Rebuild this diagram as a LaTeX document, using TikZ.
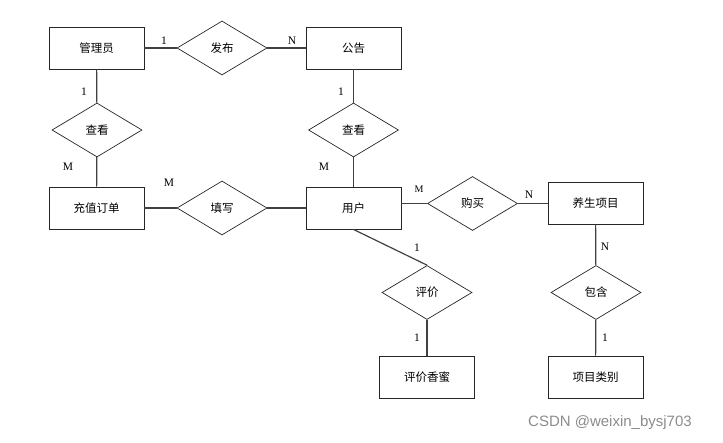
\documentclass[tikz,border=0pt]{standalone}
\usepackage{fontspec}
\setmainfont{Liberation Serif}
\newfontfamily\cjk{Noto Sans CJK SC}
\newfontfamily\wmfont{Liberation Sans}
\usetikzlibrary{shapes.geometric}
\begin{document}
\begin{tikzpicture}[x=1pt,y=-1pt,
  entity/.style={draw=black!85,line width=0.9pt,minimum width=95pt,minimum height=42pt,inner sep=0pt,font=\cjk\fontsize{11.5}{12}\selectfont},
  rel/.style={diamond,draw=black!85,line width=0.7pt,minimum width=90pt,minimum height=54pt,aspect=1.67,inner sep=0pt,font=\cjk\fontsize{11.5}{12}\selectfont},
  conn/.style={draw=black!75,line width=1.2pt},
  card/.style={font=\fontsize{11.5}{12}\selectfont,inner sep=0pt}]
\useasboundingbox (0,0) rectangle (723,443);
\node[entity] (admin) at (96.5,48) {管理员};
\node[rel] (fabu) at (222,48) {发布};
\node[entity] (gonggao) at (353.5,48) {公告};
\node[rel] (chakan1) at (97,130) {查看};
\node[rel] (chakan2) at (353.5,130) {查看};
\node[entity] (dingdan) at (96.5,208) {充值订单};
\node[rel] (tianxie) at (222,208) {填写};
\node[entity] (yonghu) at (353.5,208) {用户};
\node[rel] (goumai) at (472.5,203.5) {购买};
\node[entity] (xiangmu) at (595.5,203) {养生项目};
\node[rel] (pingjia) at (427,292.5) {评价};
\node[rel] (baohan) at (596,292.5) {包含};
\node[entity] (xiangmi) at (427,377) {评价香蜜};
\node[entity] (leibie) at (595.5,377) {项目类别};
\draw[conn] (admin) -- (fabu);
\draw[conn] (fabu) -- (gonggao);
\draw[conn] (admin) -- (chakan1);
\draw[conn] (chakan1) -- (dingdan);
\draw[conn] (gonggao) -- (chakan2);
\draw[conn] (chakan2) -- (yonghu);
\draw[conn] (dingdan) -- (tianxie);
\draw[conn] (tianxie) -- (yonghu);
\draw[conn] (yonghu.east |- goumai.west) -- (goumai.west);
\draw[conn] (goumai.east) -- (xiangmu.west |- goumai.east);
\draw[conn] (yonghu.south) -- (pingjia.north);
\draw[conn] (pingjia) -- (xiangmi);
\draw[conn] (xiangmu) -- (baohan);
\draw[conn] (baohan) -- (leibie);
\node[card] (c1) at (164,41) {1};
\node[card] (c2) at (292,41) {N};
\node[card] (c3) at (84,92) {1};
\node[card] (c4) at (68,167) {M};
\node[card] (c5) at (341,92) {1};
\node[card] (c6) at (324,167) {M};
\node[card] (c7) at (169,183) {M};
\node[card,font=\fontsize{10}{11}\selectfont] (c8) at (419,189) {M};
\node[card] (c9) at (529,195) {N};
\node[card] (c10) at (417,248) {1};
\node[card] (c11) at (417,338) {1};
\node[card] (c12) at (605,247) {N};
\node[card] (c13) at (605,338) {1};
\node[font=\wmfont\fontsize{15}{16}\selectfont,text=black!45,inner sep=0pt] (wm) at (610,423) {CSDN @weixin\_bysj703};
\end{tikzpicture}
\end{document}
